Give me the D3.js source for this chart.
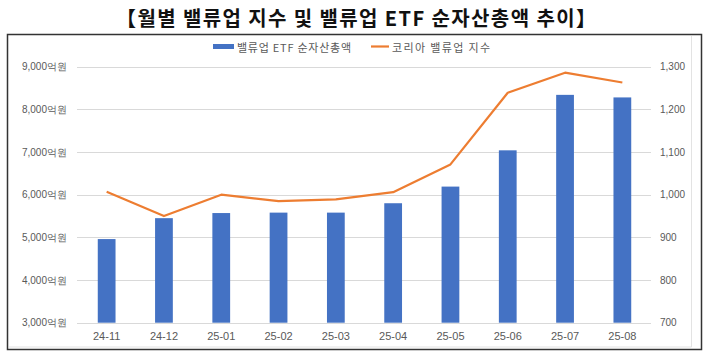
<!DOCTYPE html>
<html><head><meta charset="utf-8">
<script src="https://cdn.jsdelivr.net/npm/d3@7"></script>
<style>
html,body{margin:0;padding:0;background:#fff;}
svg{display:block;font-family:"Noto Sans CJK KR","Noto Sans",sans-serif;}
</style></head>
<body><svg id="c" width="710" height="355"></svg>
<script>
const title = "【월별 밸류업 지수 및 밸류업 ETF 순자산총액 추이】";
const categories = ["24-11","24-12","25-01","25-02","25-03","25-04","25-05","25-06","25-07","25-08"];
const etfAssets = [4960, 5450, 5570, 5580, 5580, 5800, 6190, 7040, 8340, 8280];
const indexValues = [1007, 950, 1000, 985, 989, 1006, 1071, 1239, 1286, 1263];
const leftTicks = [3000,4000,5000,6000,7000,8000,9000];
const rightTicks = [700,800,900,1000,1100,1200,1300];
const seriesNames = ["밸류업 ETF 순자산총액", "코리아 밸류업 지수"];

const svg = d3.select("#c");
const blue = "#4472C4", orange = "#ED7D31", grey = "#595959";

svg.append("text").attr("x",116).attr("y",26)
  .attr("font-size",20).attr("font-weight","bold").attr("fill","#111")
  .attr("textLength",480).attr("lengthAdjust","spacing").text(title);

// frame
svg.append("rect").attr("x",7.5).attr("y",34.5).attr("width",694).attr("height",315)
  .attr("fill","#fff").attr("stroke","#333").attr("stroke-width",1.5);
svg.append("line").attr("x1",691.5).attr("x2",691.5).attr("y1",36).attr("y2",347).attr("stroke","#e3e3e3");
svg.append("line").attr("x1",9).attr("x2",691.5).attr("y1",347).attr("y2",347).attr("stroke","#e3e3e3");

const x = d3.scaleBand().domain(categories).range([78,651]).paddingInner(0.69).paddingOuter(0.345);
const yL = d3.scaleLinear().domain([3000,9000]).range([322.7,66.7]);
const yR = d3.scaleLinear().domain([700,1300]).range([322.7,66.7]);

// grid
svg.append("g").selectAll("line").data(leftTicks).join("line")
  .attr("x1",77).attr("x2",651).attr("y1",d=>Math.round(yL(d))+0.5).attr("y2",d=>Math.round(yL(d))+0.5)
  .attr("stroke","#d9d9d9").attr("stroke-width",1);

// left axis
const fmt = d3.format(",");
const gl = svg.append("g").attr("transform","translate(67,0)")
  .call(d3.axisLeft(yL).tickValues(leftTicks).tickSize(0).tickPadding(0).tickFormat(d=>fmt(d)+"억원"));
gl.select(".domain").remove();
gl.selectAll("text").attr("font-size",10).attr("fill",grey).attr("font-family","inherit");

// right axis
const gr = svg.append("g").attr("transform","translate(660,0)")
  .call(d3.axisRight(yR).tickValues(rightTicks).tickSize(0).tickPadding(0).tickFormat(fmt));
gr.select(".domain").remove();
gr.selectAll("text").attr("font-size",10).attr("fill",grey).attr("font-family","inherit");

// x axis
const gx = svg.append("g").attr("transform","translate(0,323)")
  .call(d3.axisBottom(x).tickSize(0).tickPadding(9));
gx.select(".domain").remove();
gx.selectAll("text").attr("font-size",11).attr("fill",grey).attr("font-family","inherit");

// bars
svg.append("g").selectAll("rect").data(categories).join("rect")
  .attr("x",d=>x(d)).attr("width",x.bandwidth())
  .attr("y",(d,i)=>yL(etfAssets[i])).attr("height",(d,i)=>yL(3000)-yL(etfAssets[i]))
  .attr("fill",blue);

// line
const line = d3.line().x((d,i)=>x(categories[i])+x.bandwidth()/2).y(d=>yR(d));
svg.append("path").datum(indexValues).attr("d",line).attr("fill","none")
  .attr("stroke",orange).attr("stroke-width",2.2).attr("stroke-linejoin","round");

// legend
const lg = svg.append("g");
lg.append("rect").attr("x",213).attr("y",44).attr("width",21).attr("height",5).attr("fill",blue);
lg.append("text").attr("x",237).attr("y",51.5).attr("font-size",11).attr("fill",grey)
  .attr("textLength",114).attr("lengthAdjust","spacing").text(seriesNames[0]);
lg.append("line").attr("x1",371).attr("x2",389).attr("y1",46.5).attr("y2",46.5).attr("stroke",orange).attr("stroke-width",2.2);
lg.append("text").attr("x",392).attr("y",51.5).attr("font-size",11).attr("fill",grey)
  .attr("textLength",98).attr("lengthAdjust","spacing").text(seriesNames[1]);
</script></body></html>
